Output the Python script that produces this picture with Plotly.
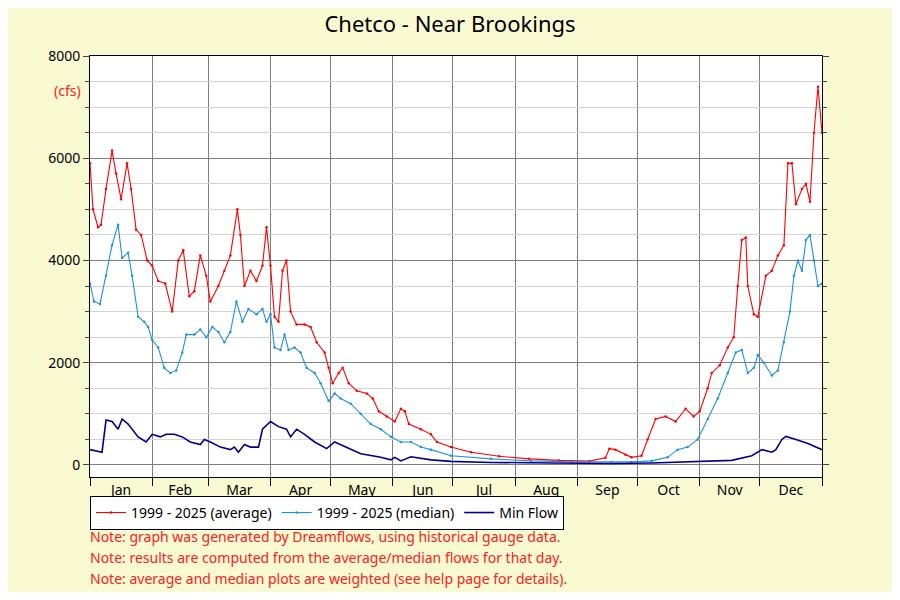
import plotly.graph_objects as go

avg_day = [0,1.5,4,5.5,8,11,13,15.5,18.5,20.5,23,25.5,28.5,31,34,37.5,41,44,46.5,49.5,52,55,58,60,64,67,70,73.5,75,77,80,83,86,88,90,92,94,96,98,100,103,107,110,113,117,119,121,124,126,129,133,138,141,144,148,152,155,157,159,165,170,173,180,190,204,219,234,249,257,259,262,267,270,275,278,282,287,292,297,301,304,308,310,314,318,321,323,325,327,328,331,333,337,340,343,346,348,350,352,355,357,359,361,363,365]
avg_val = [5900,5000,4650,4700,5400,6150,5700,5200,5900,5400,4600,4500,4000,3900,3600,3550,3000,4000,4200,3300,3400,4100,3700,3200,3500,3800,4100,5000,4500,3500,3800,3600,3900,4650,3900,2900,2800,3800,4000,3000,2750,2750,2700,2400,2200,1900,1600,1800,1900,1600,1450,1400,1300,1050,950,850,1100,1050,800,700,600,450,350,250,170,120,90,75,140,320,300,200,150,180,500,900,950,850,1100,950,1050,1500,1800,1950,2300,2500,3500,4400,4450,3500,2950,2900,3700,3800,4100,4300,5900,5900,5100,5400,5500,5150,6500,7400,6500]

med_day = [0,2,5,8,11,14,16,19,21,24,27,29,31,34,37,40,43,46,48,52,55,58,61,64,67,70,73,76,79,83,86,88,90,92,95,97,99,102,105,108,112,115,119,122,125,130,135,140,145,150,155,160,165,170,180,200,220,240,260,270,280,288,293,298,303,308,313,318,322,325,328,331,333,336,340,343,346,349,351,353,355,357,359,361,363,365]
med_val = [3550,3200,3150,3700,4300,4700,4050,4150,3700,2900,2800,2700,2450,2300,1900,1800,1850,2200,2550,2550,2650,2500,2700,2600,2400,2600,3200,2800,3050,2950,3050,2800,2950,2300,2250,2550,2250,2300,2200,1900,1800,1600,1250,1400,1300,1200,1000,800,700,550,450,450,350,300,180,120,80,60,60,60,80,150,300,350,500,900,1300,1800,2200,2250,1800,1900,2150,2000,1750,1850,2400,3000,3700,4000,3800,4400,4500,4000,3500,3550]

min_day = [0,3,6,8,11,14,16,19,24,28,31,35,38,42,46,50,55,57,60,65,70,72,74,77,80,84,86,90,94,98,100,103,107,112,118,122,128,135,145,150,152,155,160,170,180,200,230,260,280,300,320,330,335,340,342,345,347,352,358,365]
min_val = [300,270,250,880,850,700,900,800,550,450,600,550,600,600,550,450,400,500,450,350,300,350,250,400,350,350,700,850,750,700,550,700,600,450,320,450,350,220,150,100,150,80,160,100,70,50,40,30,40,60,90,180,300,250,300,500,560,500,420,300]

months = ["Jan","Feb","Mar","Apr","May","Jun","Jul","Aug","Sep","Oct","Nov","Dec"]
month_starts = [0,31,59,90,120,151,181,212,243,273,304,334,365]
mid = [(month_starts[i]+month_starts[i+1])/2 for i in range(12)]

fig = go.Figure()
fig.add_trace(go.Scatter(x=avg_day, y=avg_val, mode="lines+markers", line=dict(color="#ff0000", width=1.1),
                         marker=dict(size=2.5), name="1999 - 2025 (average)"))
fig.add_trace(go.Scatter(x=med_day, y=med_val, mode="lines+markers", line=dict(color="#1e90e6", width=1.1),
                         marker=dict(size=2.5), name="1999 - 2025 (median)"))
fig.add_trace(go.Scatter(x=min_day, y=min_val, mode="lines", line=dict(color="#00008b", width=1.6),
                         name="Min Flow"))

fig.update_layout(
    width=884, height=584, paper_bgcolor="#fafad2", plot_bgcolor="white",
    font=dict(family="Noto Sans", size=14, color="black"),
    title=dict(text="Chetco - Near Brookings", x=0.5, y=0.985, yanchor="top", xanchor="center", font=dict(size=22)),
    margin=dict(l=82, r=70, t=48, b=115),
    legend=dict(orientation="h", x=0.0, y=-0.045, xanchor="left", yanchor="top",
                bordercolor="black", borderwidth=1, bgcolor="white", font=dict(size=14)),
    showlegend=True,
)
fig.update_xaxes(range=[0,365], tickvals=mid, ticktext=months, ticks="", showgrid=False,
                 showline=True, linecolor="black", mirror=True, zeroline=False,
                 minor=dict(tickvals=month_starts, ticks="outside", ticklen=8, tickcolor="black",
                            showgrid=True, gridcolor="#808080", gridwidth=1))
fig.update_yaxes(range=[-235,8000], tickvals=[0,2000,4000,6000,8000], ticks="outside", ticklen=6,
                 showgrid=True, gridcolor="#808080", gridwidth=1, showline=True, linecolor="black",
                 mirror="ticks", zeroline=False,
                 minor=dict(dtick=500, ticks="outside", ticklen=4, showgrid=True, gridcolor="#d3d3d3"))

fig.add_annotation(text="(cfs)", xref="paper", yref="paper", x=-0.01, y=0.945, xanchor="right",
                   showarrow=False, font=dict(color="#ff2020", size=14))
notes = ["Note: graph was generated by Dreamflows, using historical gauge data.",
         "Note: results are computed from the average/median flows for that day.",
         "Note: average and median plots are weighted (see help page for details)."]
for i, t in enumerate(notes):
    fig.add_annotation(text=t, xref="paper", yref="paper", x=-0.003, xanchor="left",
                       y=-0.114 - i*0.05, yanchor="top", showarrow=False,
                       font=dict(color="#ff2020", size=14))
fig.write_html("out.html")
